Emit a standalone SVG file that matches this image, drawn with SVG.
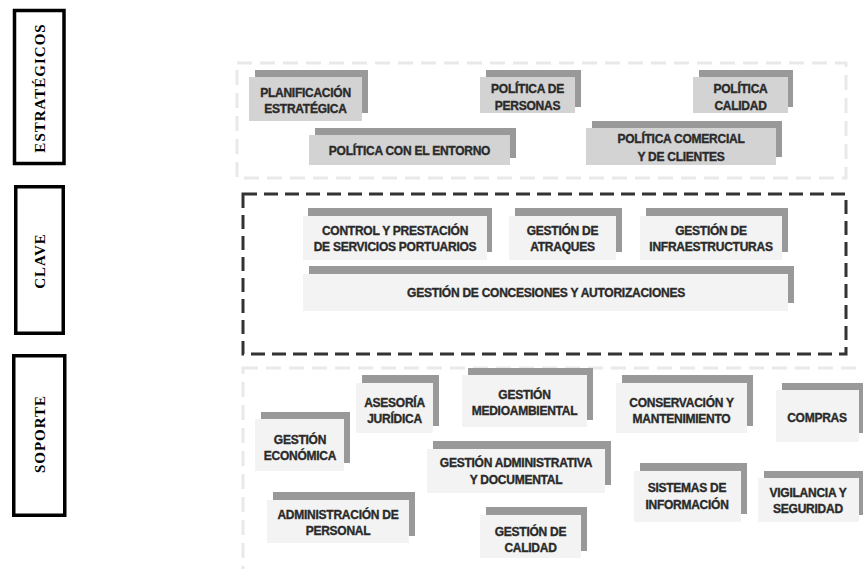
<svg xmlns="http://www.w3.org/2000/svg" width="863" height="569" viewBox="0 0 863 569">
<style>
.lbl{fill:#fff;stroke:#000;stroke-width:3.5}
.lt{font-family:"Liberation Serif","Times New Roman",serif;font-weight:bold;font-size:15px;letter-spacing:1px;fill:#000;text-anchor:middle}
.zl{fill:none;stroke:#e9e9e9;stroke-width:3;stroke-dasharray:15 8}
.zd{fill:none;stroke:#333;stroke-width:3;stroke-dasharray:14 7}
.sh{fill:#999}
.fs{fill:#d3d3d3}
.fk{fill:#f3f3f3}
text.n{font-family:"Liberation Sans",Arial,sans-serif;font-weight:bold;font-size:12px;letter-spacing:-0.25px;fill:#2a2a2a;stroke:#2a2a2a;stroke-width:0.35;text-anchor:middle}
</style>

<g id="label-estrategicos">
<rect class="lbl" x="14.5" y="10.5" width="49.5" height="153"/>
<text class="lt" transform="translate(45,88) rotate(-90)">ESTRATÉGICOS</text>
</g>
<g id="label-clave">
<rect class="lbl" x="15.75" y="186.75" width="47.5" height="146.5"/>
<text class="lt" transform="translate(45,261) rotate(-90)">CLAVE</text>
</g>
<g id="label-soporte">
<rect class="lbl" x="13.75" y="355.75" width="51" height="159.5"/>
<text class="lt" transform="translate(45,434) rotate(-90)">SOPORTE</text>
</g>

<g id="zones">
<rect class="zl" x="237" y="63" width="609" height="115"/>
<rect class="zd" x="243" y="194" width="603" height="160"/>
<rect class="zl" x="243" y="368" width="640" height="260"/>
</g>

<g id="connectors"></g>

<g id="n-planificacion">
<rect class="sh" x="255" y="70" width="113" height="43"/>
<rect class="fs" x="249" y="77" width="113" height="44"/>
<text class="n" x="305.5" y="97">PLANIFICACIÓN</text>
<text class="n" x="305.5" y="113">ESTRATÉGICA</text>
</g>
<g id="n-personas">
<rect class="sh" x="486" y="70" width="95" height="37"/>
<rect class="fs" x="480" y="77" width="95" height="36"/>
<text class="n" x="527.5" y="93">POLÍTICA DE</text>
<text class="n" x="527.5" y="110">PERSONAS</text>
</g>
<g id="n-politica-calidad">
<rect class="sh" x="699" y="70" width="94" height="37"/>
<rect class="fs" x="693" y="77" width="95" height="36"/>
<text class="n" x="740.5" y="93">POLÍTICA</text>
<text class="n" x="740.5" y="110">CALIDAD</text>
</g>
<g id="n-entorno">
<rect class="sh" x="315" y="128" width="201" height="30"/>
<rect class="fs" x="309" y="135" width="201" height="30"/>
<text class="n" x="409.5" y="155">POLÍTICA CON EL ENTORNO</text>
</g>
<g id="n-comercial">
<rect class="sh" x="592" y="121" width="190" height="36"/>
<rect class="fs" x="586" y="128" width="190" height="37"/>
<text class="n" x="681" y="143">POLÍTICA COMERCIAL</text>
<text class="n" x="681" y="161">Y DE CLIENTES</text>
</g>

<g id="n-control">
<rect class="sh" x="308" y="208" width="184" height="44"/>
<rect class="fk" x="303" y="216" width="184" height="44"/>
<text class="n" x="395" y="235">CONTROL Y PRESTACIÓN</text>
<text class="n" x="395" y="251">DE SERVICIOS PORTUARIOS</text>
</g>
<g id="n-atraques">
<rect class="sh" x="515" y="208" width="107" height="44"/>
<rect class="fk" x="509" y="216" width="107" height="44"/>
<text class="n" x="562.5" y="235">GESTIÓN DE</text>
<text class="n" x="562.5" y="251">ATRAQUES</text>
</g>
<g id="n-infraestructuras">
<rect class="sh" x="646" y="208" width="142" height="44"/>
<rect class="fk" x="640" y="216" width="142" height="44"/>
<text class="n" x="711" y="235">GESTIÓN DE</text>
<text class="n" x="711" y="251">INFRAESTRUCTURAS</text>
</g>
<g id="n-concesiones">
<rect class="sh" x="309" y="266" width="485" height="37"/>
<rect class="fk" x="303" y="274" width="485" height="37"/>
<text class="n" x="546" y="297">GESTIÓN DE CONCESIONES Y AUTORIZACIONES</text>
</g>

<g id="n-economica">
<rect class="sh" x="261" y="412" width="89" height="51"/>
<rect class="fk" x="255" y="419" width="89" height="52"/>
<text class="n" x="300" y="444">GESTIÓN</text>
<text class="n" x="300" y="460">ECONÓMICA</text>
</g>
<g id="n-juridica">
<rect class="sh" x="362" y="375" width="77" height="51"/>
<rect class="fk" x="356" y="383" width="77" height="50"/>
<text class="n" x="394.5" y="407">ASESORÍA</text>
<text class="n" x="394.5" y="423">JURÍDICA</text>
</g>
<g id="n-medioambiental">
<rect class="sh" x="468" y="368" width="125" height="52"/>
<rect class="fk" x="462" y="375" width="125" height="52"/>
<text class="n" x="524.5" y="399">GESTIÓN</text>
<text class="n" x="524.5" y="415">MEDIOAMBIENTAL</text>
</g>
<g id="n-administrativa">
<rect class="sh" x="433" y="441" width="178" height="44"/>
<rect class="fk" x="427" y="449" width="178" height="44"/>
<text class="n" x="516" y="467">GESTIÓN ADMINISTRATIVA</text>
<text class="n" x="516" y="484">Y DOCUMENTAL</text>
</g>
<g id="n-personal">
<rect class="sh" x="273" y="492" width="142" height="44"/>
<rect class="fk" x="267" y="500" width="142" height="43"/>
<text class="n" x="338" y="519">ADMINISTRACIÓN DE</text>
<text class="n" x="338" y="535">PERSONAL</text>
</g>
<g id="n-gestion-calidad">
<rect class="sh" x="486" y="507" width="101" height="44"/>
<rect class="fk" x="480" y="515" width="101" height="43"/>
<text class="n" x="530.5" y="536">GESTIÓN DE</text>
<text class="n" x="530.5" y="552">CALIDAD</text>
</g>
<g id="n-conservacion">
<rect class="sh" x="622" y="375" width="131" height="51"/>
<rect class="fk" x="616" y="383" width="131" height="50"/>
<text class="n" x="681.5" y="407">CONSERVACIÓN Y</text>
<text class="n" x="681.5" y="423">MANTENIMIENTO</text>
</g>
<g id="n-compras">
<rect class="sh" x="782" y="383" width="83" height="50"/>
<rect class="fk" x="776" y="390" width="83" height="52"/>
<text class="n" x="817" y="422">COMPRAS</text>
</g>
<g id="n-sistemas">
<rect class="sh" x="640" y="463" width="107" height="51"/>
<rect class="fk" x="634" y="471" width="107" height="51"/>
<text class="n" x="687" y="492">SISTEMAS DE</text>
<text class="n" x="687" y="509">INFORMACIÓN</text>
</g>
<g id="n-vigilancia">
<rect class="sh" x="764" y="471" width="101" height="44"/>
<rect class="fk" x="758" y="478" width="101" height="44"/>
<text class="n" x="808" y="497">VIGILANCIA Y</text>
<text class="n" x="808" y="513">SEGURIDAD</text>
</g>
</svg>
